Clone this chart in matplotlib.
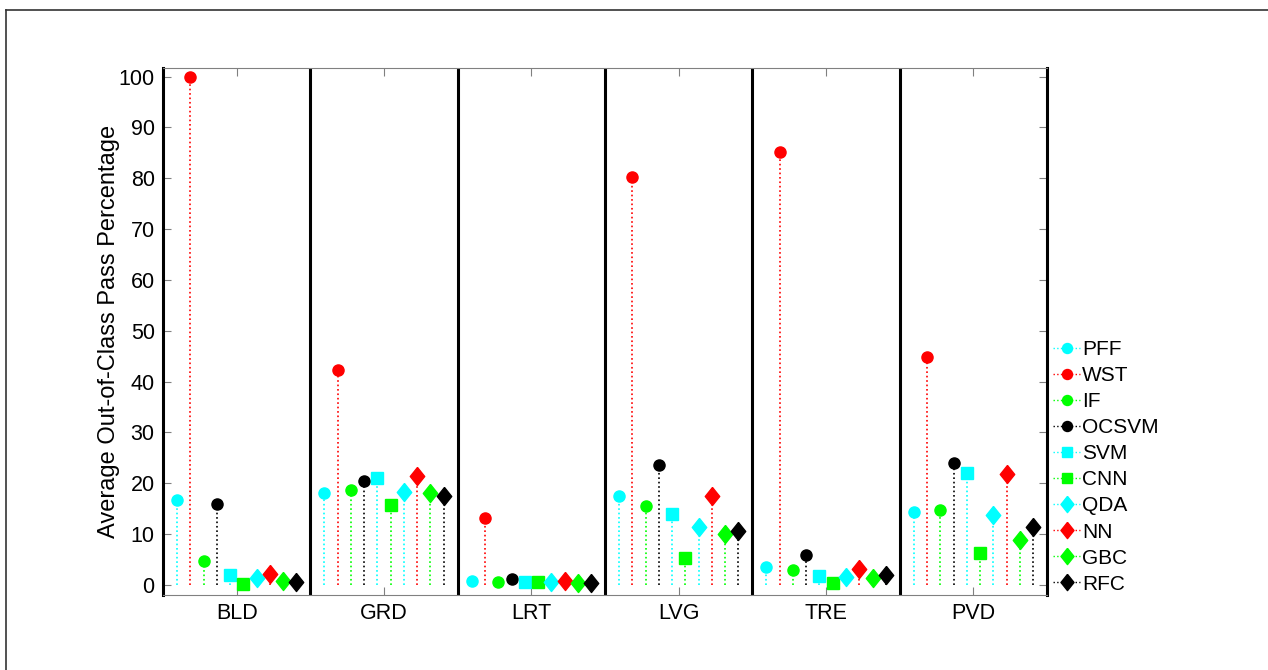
import matplotlib
matplotlib.use('Agg')
import matplotlib.pyplot as plt
from matplotlib.lines import Line2D
import numpy as np

plt.rcParams['font.family'] = ['Liberation Sans', 'DejaVu Sans']

# land cover classes on the x axis
classes = ['BLD', 'GRD', 'LRT', 'LVG', 'TRE', 'PVD']

# methods (legend order)
methods = ['PFF', 'WST', 'IF', 'OCSVM', 'SVM', 'CNN', 'QDA', 'NN', 'GBC', 'RFC']

# average out-of-class pass percentage, one list per method (values per class)
pff   = [16.7, 18.0, 0.8, 17.4, 3.6, 14.4]
wst   = [100.0, 42.2, 13.2, 80.3, 85.2, 44.8]
iff   = [4.7, 18.6, 0.6, 15.6, 2.9, 14.7]
ocsvm = [15.9, 20.5, 1.2, 23.6, 5.9, 24.0]
svm   = [2.0, 21.1, 0.6, 14.0, 1.7, 22.0]
cnn   = [0.2, 15.8, 0.5, 5.3, 0.3, 6.3]
qda   = [1.3, 18.3, 0.5, 11.4, 1.5, 13.7]
nn    = [2.1, 21.4, 0.8, 17.5, 3.2, 21.9]
gbc   = [0.7, 18.1, 0.3, 10.0, 1.3, 8.9]
rfc   = [0.5, 17.4, 0.4, 10.6, 2.0, 11.4]

all_values = [pff, wst, iff, ocsvm, svm, cnn, qda, nn, gbc, rfc]

# marker + colour for each method (MATLAB-ish colours)
diamond = [(0, 1), (0.8, 0), (0, -1), (-0.8, 0), (0, 1)]
styles = [('o', 'cyan', 8), ('o', 'red', 8), ('o', '#00ff00', 8), ('o', 'black', 8),
          ('s', 'cyan', 8), ('s', '#00ff00', 8),
          (diamond, 'cyan', 13), (diamond, 'red', 13), (diamond, '#00ff00', 13), (diamond, 'black', 13)]

fig = plt.figure(figsize=(12.68, 6.70), dpi=100)
ax = fig.add_axes([0.1286, 0.1119, 0.6972, 0.7866])

x = np.arange(1, len(classes) + 1)
step = 0.09
for i, vals in enumerate(all_values):
    mk, col, ms = styles[i]
    xs = x + (i - 4.5) * step
    for xx, v in zip(xs, vals):
        ax.plot([xx, xx], [0, v], linestyle=':', color=col, linewidth=1.2)
    ax.plot(xs, vals, linestyle='none', marker=mk, color=col, markersize=ms,
            markeredgecolor=col)

# thick separators between classes
for b in np.arange(1.5, len(classes), 1.0):
    ax.axvline(b, color='black', linewidth=2.2)

ax.set_xlim(0.5, len(classes) + 0.5)
ax.set_ylim(-2.0, 101.7)
ax.set_xticks(x)
ax.set_xticklabels(classes, fontsize=15.5)
ax.set_yticks(np.arange(0, 101, 10))
ax.tick_params(axis='y', labelsize=15.5, direction='in', length=6, color='gray',
               right=True, pad=6)
ax.tick_params(axis='x', direction='in', length=6, color='gray', top=True, pad=6)
ax.set_ylabel('Average Out-of-Class Pass Percentage', fontsize=17, labelpad=-1)

ax.spines['left'].set_linewidth(2.2)
ax.spines['right'].set_linewidth(2.2)
ax.spines['top'].set_color('gray')
ax.spines['bottom'].set_color('gray')
ax.spines['top'].set_linewidth(0.8)
ax.spines['bottom'].set_linewidth(0.8)

# legend outside right
handles = [Line2D([0], [0], linestyle=':', color=s[1], marker=s[0], markersize=s[2] * 0.9,
                  linewidth=1.0) for s in styles]
fig.legend(handles, methods, loc='upper left', bbox_to_anchor=(0.824, 0.505),
           frameon=False, fontsize=15, handlelength=1.3, handletextpad=0.1,
           labelspacing=0.34, borderaxespad=0)

# thin frame around the figure (top and left edges visible in the reference)
fig.add_artist(Line2D([6 / 1268, 1.0], [1 - 10 / 670, 1 - 10 / 670], color='#333333',
                      linewidth=1.2, transform=fig.transFigure))
fig.add_artist(Line2D([6 / 1268, 6 / 1268], [0.0, 1 - 10 / 670], color='#333333',
                      linewidth=1.2, transform=fig.transFigure))

fig.savefig('out.png', dpi=100)
